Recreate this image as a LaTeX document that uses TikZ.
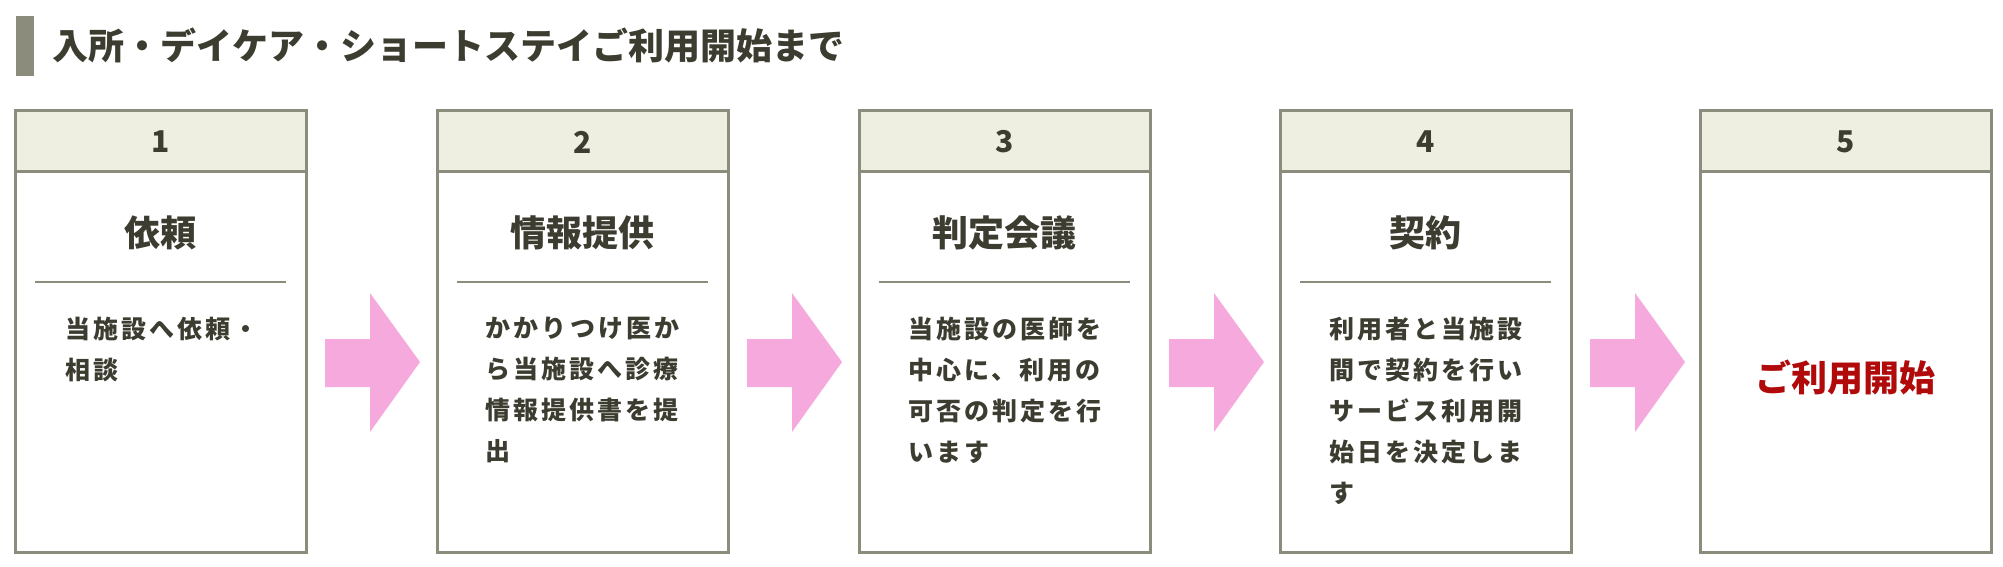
\documentclass[tikz,border=0pt]{standalone}
\usepackage{fontspec}
\setmainfont{Noto Sans CJK JP}
\newfontfamily\bodyfont[LetterSpace=12]{Noto Sans CJK JP}
\usetikzlibrary{calc}

\definecolor{framegray}{HTML}{8C8C7C}
\definecolor{headfill}{HTML}{EFEFE1}
\definecolor{inkdark}{HTML}{3C3C30}
\definecolor{arrowpink}{HTML}{F5A9DC}
\definecolor{startred}{HTML}{B00A0A}

\tikzset{
  frame/.style={draw=framegray, line width=3pt},
  divider/.style={draw=framegray, line width=2pt},
  numtext/.style={text=inkdark, inner sep=0, font=\bfseries\fontsize{30}{30}\selectfont},
  steptitle/.style={text=inkdark, inner sep=0, font=\bfseries\fontsize{36}{36}\selectfont},
  steptext/.style={text=inkdark, inner sep=0, anchor=north, align=left,
    font=\bodyfont\bfseries\fontsize{25}{41}\selectfont},
  bigarrow/.style={fill=arrowpink}
}

\begin{document}
\begin{tikzpicture}[x=1pt,y=-1pt]
\useasboundingbox (0,0) rectangle (2003,566);
\fill[framegray] (16,16) rectangle (34,76);
\node[steptitle, anchor=west] (title) at (52,46) {入所・デイケア・ショートステイご利用開始まで};

\foreach \n/\x in {1/15,2/437,3/859,4/1280,5/1700} {
  \draw[frame, fill=headfill] (\x,110) rectangle ++(291,61);
  \draw[frame] (\x,171) rectangle ++(291,381);
  \node[numtext] (num\n) at (\x+145.5,142) {\n};
}
\foreach \x in {15,437,859,1280}
  \draw[divider] (\x+20,282) -- (\x+271,282);
\foreach \x in {306,728,1150,1571}
  \fill[bigarrow] (\x+19,339) -- (\x+64,339) -- (\x+64,293) -- (\x+114,362)
    -- (\x+64,432) -- (\x+64,387) -- (\x+19,387) -- cycle;

\node[steptitle] (head1) at (160.5,233) {依頼};
\node[steptitle] (head2) at (582.5,233) {情報提供};
\node[steptitle] (head3) at (1004.5,233) {判定会議};
\node[steptitle] (head4) at (1425.5,233) {契約};

\node[steptext] (body1) at (162,317) {当施設へ依頼・\\相談};
\node[steptext] (body2) at (582.5,317) {かかりつけ医か\\ら当施設へ診療\\情報提供書を提\\出};
\node[steptext] (body3) at (1004.5,317) {当施設の医師を\\中心に、利用の\\可否の判定を行\\います};
\node[steptext] (body4) at (1425.5,317) {利用者と当施設\\間で契約を行い\\サービス利用開\\始日を決定しま\\す};

\node[steptitle, text=startred] (start) at (1845.5,378) {ご利用開始};
\end{tikzpicture}
\end{document}
